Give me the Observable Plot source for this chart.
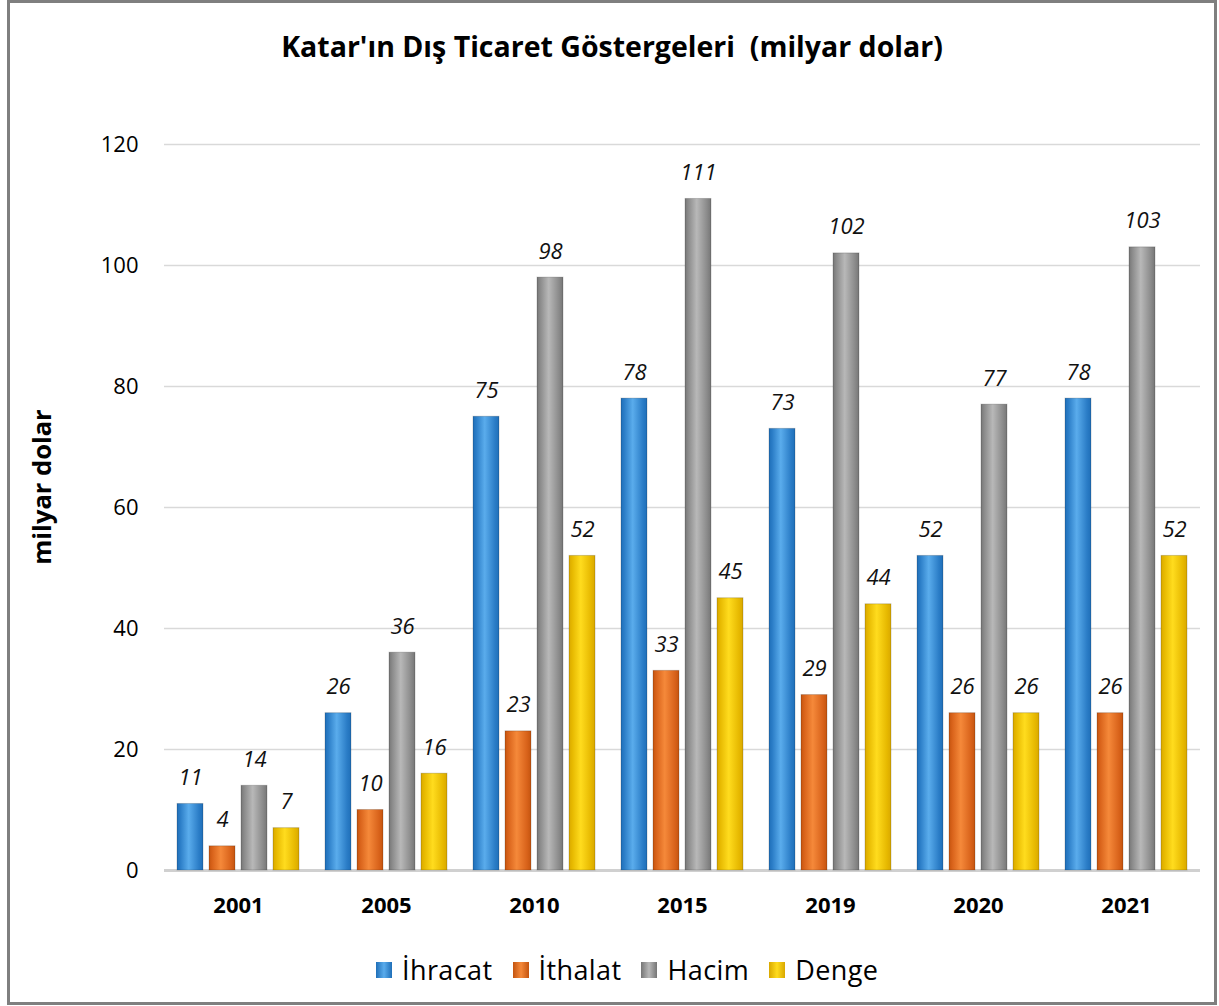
<!DOCTYPE html>
<html>
<head>
<meta charset="utf-8">
<script src="https://cdn.jsdelivr.net/npm/d3@7"></script>
<script src="https://cdn.jsdelivr.net/npm/@observablehq/plot@0.6"></script>
<style>
  body { margin: 0; background: #fff; font-family: "Open Sans", sans-serif; }
  #wrap { position: relative; width: 1219px; height: 1006px; overflow: hidden; background: #fff; }
  #frame { position: absolute; left: 7px; top: 0px; width: 1204px; height: 999px; border: 3px solid #7f7f7f; }
  #title { position: absolute; top: 26px; left: 0; width: 1224px; text-align: center; font-weight: bold; font-size: 28.5px; line-height: 40px; color: #000; }
  #ylab { position: absolute; left: 41px; top: 487px; transform: translate(-50%, -50%) rotate(-90deg); font-weight: bold; font-size: 25.5px; white-space: nowrap; }
  #chart { position: absolute; left: 0; top: 100px; }
  #legend { position: absolute; top: 951px; left: 376px; display: flex; gap: 20px; font-size: 27px; line-height: 38px; letter-spacing: 0.4px; color: #000; }
  #legend .item { display: flex; align-items: center; gap: 10px; }
  #legend .sw { width: 16px; height: 16px; }
</style>
</head>
<body>
<div id="wrap">
  <div id="frame"></div>
  <div id="title">Katar'ın Dış Ticaret Göstergeleri&nbsp; (milyar dolar)</div>
  <div id="ylab">milyar dolar</div>
  <div id="chart"></div>
  <div id="legend"></div>
</div>
<script>
const years = ["2001", "2005", "2010", "2015", "2019", "2020", "2021"];
const seriesNames = ["İhracat", "İthalat", "Hacim", "Denge"];
const ihracat = [11, 26, 75, 78, 73, 52, 78];
const ithalat = [4, 10, 23, 33, 29, 26, 26];
const hacim = [14, 36, 98, 111, 102, 77, 103];
const denge = [7, 16, 52, 45, 44, 26, 52];
const yTicks = [0, 20, 40, 60, 80, 100, 120];
const colors = {
  "İhracat": ["#1f6fb8", "#5aacec", "#2a7cc6"],
  "İthalat": ["#c4540f", "#f5893a", "#d8621a"],
  "Hacim": ["#767676", "#b8b8b8", "#8a8a8a"],
  "Denge": ["#d9a800", "#ffdc1e", "#e6b800"]
};

const seriesValues = [ihracat, ithalat, hacim, denge];
const data = [];
years.forEach((y, i) => seriesNames.forEach((s, j) => data.push({year: y, series: s, value: seriesValues[j][i]})));

const gradIds = seriesNames.map((s, i) => "grad" + i);

const chart = Plot.plot({
  width: 1219,
  height: 820,
  marginTop: 44,
  marginBottom: 50,
  marginLeft: 163,
  marginRight: 19,
  style: {fontFamily: "'Open Sans', sans-serif", fontSize: "22px", color: "#000", background: "transparent"},
  fx: {domain: years, padding: 0, label: null, axis: null},
  x: {domain: seriesNames, paddingInner: 0.18, paddingOuter: 0.39, axis: null},
  y: {domain: [0, 120], ticks: yTicks, label: null, tickSize: 0, tickPadding: 26, grid: false},
  color: {domain: seriesNames, range: gradIds.map(id => `url(#${id})`)},
  marks: [
    Plot.ruleY(yTicks.filter(t => t > 0), {stroke: "#d9d9d9", strokeWidth: 1.5}),
    Plot.ruleY([0], {stroke: "#d0d0d0", strokeWidth: 3}),
    Plot.barY(data, {fx: "year", x: "series", y: "value", fill: "series", stroke: "rgba(0,0,0,0.18)", strokeWidth: 1}),
    Plot.text(data, {fx: "year", x: "series", y: "value", text: d => String(d.value), dy: -26, fontStyle: "italic", fontSize: 22, fill: "#111"}),
    Plot.axisFx({anchor: "bottom", tickSize: 0, tickPadding: 27, fontWeight: "bold", fontSize: 22, label: null})
  ]
});

// gradient defs
const svgns = "http://www.w3.org/2000/svg";
const defs = document.createElementNS(svgns, "defs");
seriesNames.forEach((s, i) => {
  const g = document.createElementNS(svgns, "linearGradient");
  g.setAttribute("id", gradIds[i]);
  g.setAttribute("x1", "0"); g.setAttribute("x2", "1"); g.setAttribute("y1", "0"); g.setAttribute("y2", "0");
  const c = colors[s];
  [[0, c[0]], [0.12, c[2]], [0.45, c[1]], [0.85, c[2]], [1, c[0]]].forEach(([o, col]) => {
    const st = document.createElementNS(svgns, "stop");
    st.setAttribute("offset", o);
    st.setAttribute("stop-color", col);
    g.appendChild(st);
  });
  defs.appendChild(g);
});
chart.insertBefore(defs, chart.firstChild);
document.getElementById("chart").appendChild(chart);

// legend
const leg = document.getElementById("legend");
seriesNames.forEach((s, i) => {
  const item = document.createElement("div");
  item.className = "item";
  const sw = document.createElement("div");
  sw.className = "sw";
  sw.style.background = `linear-gradient(to right, ${colors[s][0]}, ${colors[s][1]}, ${colors[s][0]})`;
  const t = document.createElement("span");
  t.textContent = s;
  item.appendChild(sw); item.appendChild(t);
  leg.appendChild(item);
});
</script>
</body>
</html>
